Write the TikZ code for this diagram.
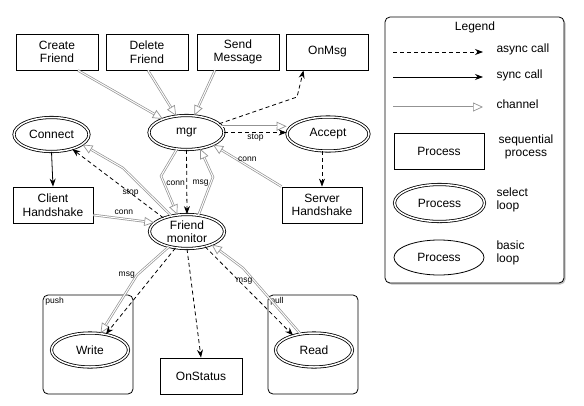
\documentclass[tikz,border=0pt]{standalone}
\usepackage{fontspec}
\setmainfont{Liberation Sans}
\usetikzlibrary{arrows.meta,shapes.geometric,shadows}

\begin{document}
\begin{tikzpicture}[x=1pt,y=-1pt]

\tikzset{every node/.style={font=\fontsize{12}{13.5}\selectfont,align=center}}
\tikzset{proc/.style={draw,line width=0.8pt,minimum width=82pt,minimum height=36pt,inner sep=0pt}}
\tikzset{selectloop/.style={draw,ellipse,double,double distance=1.5pt,line width=0.8pt,minimum width=75pt,minimum height=34pt,inner sep=0pt}}
\tikzset{basicloop/.style={draw,ellipse,line width=0.8pt,minimum width=90pt,minimum height=35pt,inner sep=0pt}}
\tikzset{group/.style={draw,rounded corners=5pt,line width=0.8pt,minimum width=90pt,minimum height=99pt}}
\tikzset{tag/.style={font=\fontsize{8.5}{10}\selectfont,inner sep=1pt}}
\tikzset{async/.style={dashed,dash pattern=on 4pt off 3pt,line width=0.8pt,-{Stealth[length=8pt,width=6pt]}}}
\tikzset{sync/.style={line width=0.8pt,-{Stealth[length=8pt,width=6pt]}}}
\tikzset{channel/.style={draw=gray!85,line width=2.4pt,-{Triangle[open,length=10pt,width=9pt,line width=0.7pt]},
  postaction={draw=white,line width=1pt,-,shorten >=10pt}}}

\useasboundingbox (0,0) rectangle (584,405);

\node[proc] (create) at (57,52) {Create\\Friend};
\node[proc] (delete) at (147,52) {Delete\\Friend};
\node[proc] (send) at (238,52) {Send\\Message};
\node[proc] (onmsg) at (327.5,52) {OnMsg};

\node[selectloop] (connect) at (51.5,134.5) {Connect};
\node[selectloop] (mgr) at (186.5,132.5) {mgr};
\node[selectloop,minimum width=82pt] (accept) at (328,134) {Accept};

\node[proc,minimum width=80pt] (client) at (53,205) {Client\\Handshake};
\node[proc,minimum width=80pt] (server) at (322,205) {Server\\Handshake};
\node[selectloop] (monitor) at (187,231.5) {Friend\\monitor};

\node[group] (push) at (88,344.5) {};
\node[tag,anchor=north west,inner sep=2.5pt] (pushtag) at (push.north west) {push};
\node[group] (pull) at (313,344.5) {};
\node[tag,anchor=north west,inner sep=2.5pt] (pulltag) at (pull.north west) {pull};
\node[selectloop,minimum width=77pt] (write) at (90,350) {Write};
\node[selectloop,minimum width=77pt] (read) at (314,350) {Read};
\node[proc] (onstatus) at (201,376) {OnStatus};

\draw[channel] ([xshift=21pt]create.south) -- (mgr);
\draw[channel] ([xshift=1pt]delete.south) -- (mgr);
\draw[channel] ([xshift=-23pt]send.south) -- (mgr);
\draw[async] (mgr.15) -- (297,97) -- ([xshift=-24pt]onmsg.south);
\draw[channel] (mgr.10) -- (accept.west |- mgr.10);
\draw[async] (mgr.east) -- node[tag,below] (stoptag) {stop} (accept.west |- mgr.east);
\draw[async] (server.north |- accept.south) -- (server.north);
\draw[channel] (server.north west) -- node[tag,above=2pt] {conn} (mgr.-25);

\draw[sync] (connect.south) -- (client.north);
\draw[channel] ([yshift=-10pt]client.east) -- node[tag,above=2pt] {conn} (monitor.165);
\draw[channel] (monitor.135) -- (123,168) -- (connect.-18);
\draw[async] (monitor.150) -- node[tag,pos=0.36] {stop} (connect.-35);

\draw[channel] (mgr.-120) -- (161,176) -- node[tag,pos=0.2,right] {conn} (monitor.120);
\draw[async] (mgr.south) -- (monitor.north);
\draw[channel] (monitor.55) -- node[tag,pos=0.85,left] {msg} (213,177) -- (mgr.-50);

\draw[channel] (monitor.-140) -- (137,275) node[tag,left] {msg} -- (write);
\draw[async] (monitor.-125) -- (write.45);
\draw[async] (monitor.south) -- (onstatus.north);
\draw[channel] (read.130) -- node[tag,pos=0.8,left] {msg} (243,268) -- (monitor.-28);
\draw[async] (monitor.-40) -- (read.145);

\node[draw,rounded corners=5pt,line width=0.8pt,fill=white,drop shadow={shadow xshift=1.5pt,shadow yshift=-1.5pt,opacity=0.5},minimum width=179pt,minimum height=266pt] (legend) at (474.5,150) {};
\node (legendtitle) at (475,27) {Legend};
\coordinate (asyncA) at (393,52);
\coordinate (asyncB) at (483,52);
\coordinate (syncA) at (393,77);
\coordinate (syncB) at (483,77);
\coordinate (chanA) at (393,107);
\coordinate (chanB) at (483,107);
\draw[async] (asyncA) -- (asyncB);
\draw[sync] (syncA) -- (syncB);
\draw[channel] (chanA) -- (chanB);
\node[anchor=west] (asynctext) at (493,49) {async call};
\node[anchor=west] (synctext) at (493,75) {sync call};
\node[anchor=west] (chantext) at (493,104) {channel};
\node[proc,minimum width=90pt] (legproc) at (439,151) {Process};
\node (legproctext) at (526,147) {sequential\\process};
\node[selectloop,minimum width=90pt,minimum height=37pt] (legselect) at (439.5,203) {Process};
\node[anchor=west,align=left] (legselecttext) at (493,200) {select\\loop};
\node[basicloop] (legbasic) at (439,257.5) {Process};
\node[anchor=west,align=left] (legbasictext) at (493,253) {basic\\loop};

\end{tikzpicture}
\end{document}
